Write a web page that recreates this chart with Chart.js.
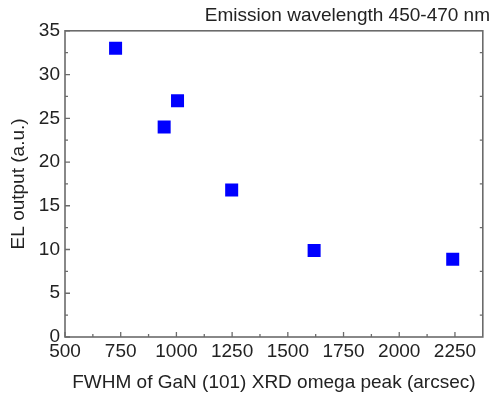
<!DOCTYPE html>
<html>
<head>
<meta charset="utf-8">
<script src="https://cdn.jsdelivr.net/npm/chart.js"></script>
<style>
  html, body { margin: 0; padding: 0; background: #fff; }
  #chart { display: block; }
</style>
</head>
<body>
<canvas id="chart" width="492" height="396"></canvas>
<script>
// values
const fwhm = [727, 945, 1005, 1248, 1618, 2240];
const elOutput = [33, 24, 27, 16.8, 9.9, 8.9];
const xTicks = [500, 750, 1000, 1250, 1500, 1750, 2000, 2250];
const yTicks = [0, 5, 10, 15, 20, 25, 30, 35];

const FONT = "'Liberation Sans', Arial, sans-serif";
const AXIS = "#6b6b6b";
const TEXT = "#222";

// ticks pointing into the plot, plus the frame
const frame = {
  id: "frame",
  afterDraw(chart) {
    const { ctx, chartArea: a, scales } = chart;
    const x = scales.x, y = scales.y;
    ctx.save();
    ctx.strokeStyle = AXIS;
    ctx.lineWidth = 1.6;
    ctx.strokeRect(a.left, a.top, a.right - a.left, a.bottom - a.top);
    ctx.lineWidth = 1.3;
    ctx.beginPath();
    // bottom axis: major + minor
    xTicks.forEach(v => {
      const px = x.getPixelForValue(v);
      ctx.moveTo(px, a.bottom); ctx.lineTo(px, a.bottom - 5);
      const m = x.getPixelForValue(v + 125);
      if (m < a.right - 1) { ctx.moveTo(m, a.bottom); ctx.lineTo(m, a.bottom - 3); }
    });
    // left axis major + minor, right axis minor
    yTicks.forEach(v => {
      const py = y.getPixelForValue(v);
      ctx.moveTo(a.left, py); ctx.lineTo(a.left + 5, py);
      const m = y.getPixelForValue(v + 2.5);
      if (m > a.top + 1) {
        ctx.moveTo(a.left, m); ctx.lineTo(a.left + 3, m);
        ctx.moveTo(a.right, m); ctx.lineTo(a.right - 3, m);
      }
    });
    ctx.stroke();
    ctx.restore();
  }
};

new Chart(document.getElementById("chart"), {
  type: "scatter",
  data: {
    datasets: [{
      data: fwhm.map((v, i) => ({ x: v, y: elOutput[i] })),
      pointStyle: "rect",
      pointRadius: 9.2,
      pointHoverRadius: 9.2,
      backgroundColor: "#0000ff",
      borderColor: "#0000ff",
      borderWidth: 0
    }]
  },
  options: {
    responsive: false,
    animation: false,
    layout: { padding: { left: 0, right: 2, top: 0, bottom: 0 } },
    plugins: {
      legend: { display: false },
      tooltip: { enabled: false },
      title: {
        display: true,
        text: "Emission wavelength 450-470 nm",
        align: "end",
        color: TEXT,
        font: { family: FONT, size: 19, weight: "normal", lineHeight: 1.2 },
        padding: { top: 4, bottom: 4 }
      }
    },
    scales: {
      x: {
        type: "linear",
        min: 500,
        max: 2375,
        afterBuildTicks: s => { s.ticks = xTicks.map(v => ({ value: v })); },
        afterFit: s => { s.height = 59; },
        grid: { display: false, drawTicks: false, tickLength: 0 },
        border: { display: false },
        ticks: {
          padding: 3,
          maxRotation: 0,
          autoSkip: false,
          color: TEXT,
          font: { family: FONT, size: 19 },
          callback: v => String(v)
        },
        title: {
          display: true,
          text: "FWHM of GaN (101) XRD omega peak (arcsec)",
          color: TEXT,
          font: { family: FONT, size: 19 },
          padding: { top: 0, bottom: 2 }
        }
      },
      y: {
        type: "linear",
        min: 0,
        max: 35,
        afterBuildTicks: s => { s.ticks = yTicks.map(v => ({ value: v })); },
        afterFit: s => { s.width = 65; },
        grid: { display: false, drawTicks: false, tickLength: 0 },
        border: { display: false },
        ticks: {
          padding: 5,
          autoSkip: false,
          color: TEXT,
          font: { family: FONT, size: 19 },
          callback: v => String(v)
        },
        title: {
          display: true,
          text: "EL output (a.u.)",
          color: TEXT,
          font: { family: FONT, size: 19 },
          padding: { top: 7, bottom: 0 }
        }
      }
    }
  },
  plugins: [frame]
});
</script>
</body>
</html>
